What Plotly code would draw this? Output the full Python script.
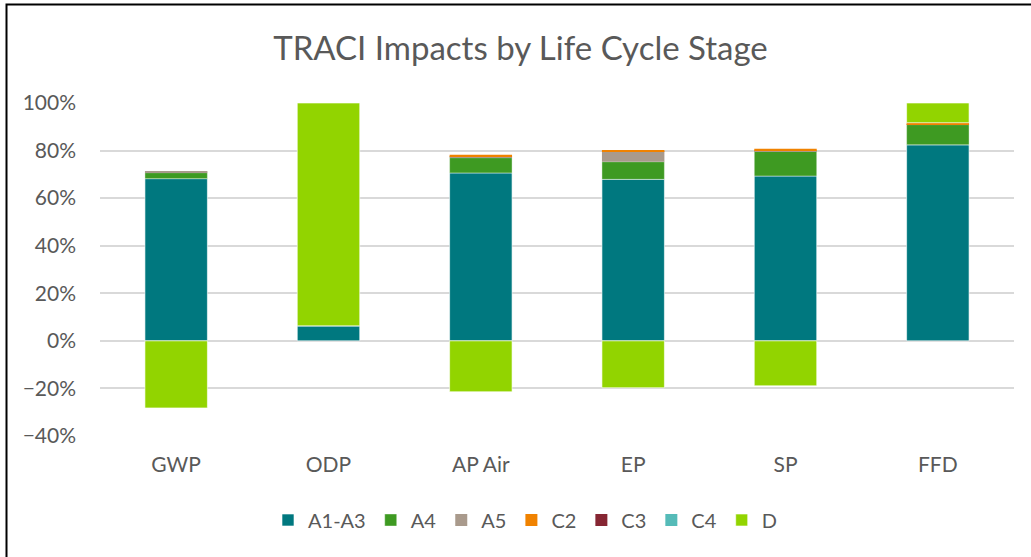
import plotly.graph_objects as go

categories = ["GWP", "ODP", "AP Air", "EP", "SP", "FFD"]
a1_a3 = [68.2, 6.3, 70.6, 67.9, 69.3, 82.4]
a4 = [2.5, 0.0, 6.4, 7.4, 10.5, 8.5]
a5 = [0.7, 0.0, 0.4, 4.5, 0.2, 0.2]
c2 = [0.0, 0.0, 0.8, 0.4, 0.8, 0.6]
c3 = [0.0, 0.0, 0.0, 0.0, 0.0, 0.0]
c4 = [0.0, 0.0, 0.0, 0.0, 0.0, 0.0]
d_pos = [0.0, 93.7, 0.0, 0.0, 0.0, 8.3]
d_neg = [-28.2, 0.0, -21.4, -19.7, -18.9, 0.0]
d_vals = [p + n for p, n in zip(d_pos, d_neg)]

series = [
    ("A1-A3", a1_a3, "#00787F", 0.6),
    ("A4", a4, "#3E9A22", 0.4),
    ("A5", a5, "#A99A8C", 0.0),
    ("C2", c2, "#F08200", 0.0),
    ("C3", c3, "#862633", 0.0),
    ("C4", c4, "#55BBB8", 0.0),
    ("D", d_vals, "#92D400", 0.6),
]

FONT = "Lato, 'Open Sans', sans-serif"
GREY = "#595959"

fig = go.Figure()
for name, vals, color, lw in series:
    fig.add_trace(go.Bar(
        name=name, x=categories, y=[v / 100 for v in vals],
        marker=dict(color=color, line=dict(color="white", width=lw)),
    ))

L, R, T, B = 100, 17, 103, 121
W, H = 1031, 557
pw, ph = W - L - R, H - T - B

def px_x(p):
    return (p - L) / pw

def px_y(p):
    return (H - B - p) / ph

fig.add_shape(type="rect", xref="paper", yref="paper",
              x0=px_x(6.5), x1=px_x(1045), y0=px_y(575), y1=px_y(4.5),
              line=dict(color="black", width=2), layer="above")

fig.update_layout(
    width=W, height=H,
    barmode="relative", bargap=0.59,
    plot_bgcolor="white", paper_bgcolor="white",
    margin=dict(l=L, r=R, t=T, b=B, pad=0),
    font=dict(family=FONT, color=GREY, size=21),
    title=dict(text="TRACI Impacts by Life Cycle Stage", x=520.5 / W, xref="container",
               xanchor="center", y=1 - 48 / H, yref="container", yanchor="middle",
               font=dict(size=33, color=GREY, family=FONT)),
    legend=dict(orientation="h", x=px_x(525), xanchor="center",
                y=px_y(520), yanchor="middle", yref="paper",
                font=dict(size=20, color=GREY), traceorder="normal",
                itemwidth=30),
    showlegend=True,
)
fig.update_xaxes(showgrid=False, showline=False, ticks="", tickfont=dict(size=21, color=GREY),
                 ticklabelstandoff=14)
fig.update_yaxes(range=[-0.4, 1.0], dtick=0.2, tickformat=".0%", showgrid=True,
                 gridcolor="#D9D9D9", gridwidth=1.5, zeroline=True, zerolinecolor="#D9D9D9",
                 zerolinewidth=1.5, showline=False, ticks="", ticklabelstandoff=23,
                 tickfont=dict(size=21, color=GREY))

fig.write_html("out.html", config={"displayModeBar": False},
               post_script="document.body.style.margin='0';")
